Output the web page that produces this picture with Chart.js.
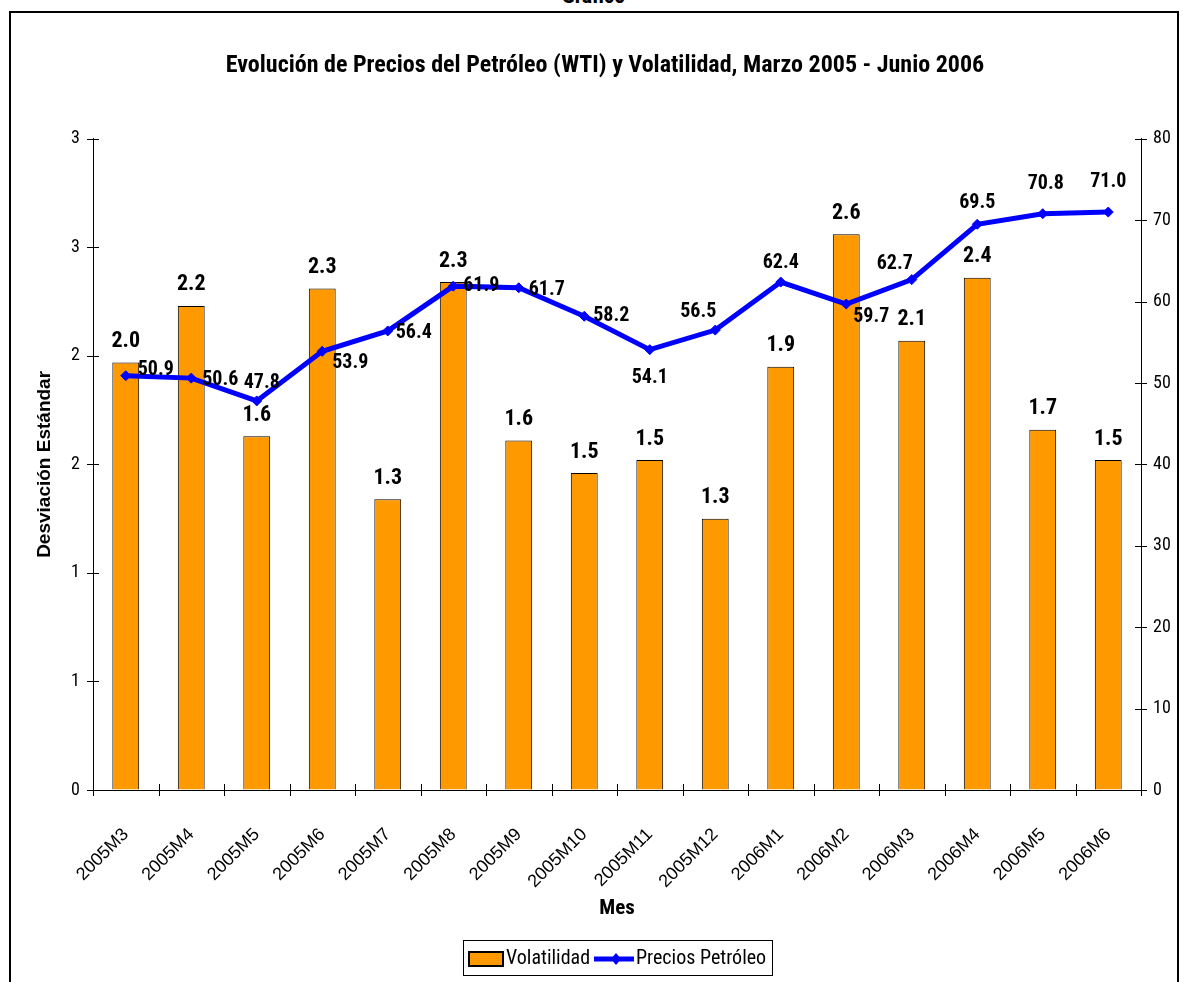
<!DOCTYPE html>
<html>
<head>
<meta charset="utf-8">
<script src="https://cdn.jsdelivr.net/npm/chart.js@4/dist/chart.umd.min.js"></script>
<style>
	body { margin: 0; background: #fff; width: 1187px; height: 982px; overflow: hidden; position: relative; }
	#marco { position: absolute; left: 9px; top: 11px; width: 1166px; height: 1000px; border: 2px solid #000; }
	#grafico { position: absolute; left: 0; top: 0; }
	#encabezado { position: absolute; top: -17px; width: 100%; text-align: center; font: bold 22px "Roboto Condensed", sans-serif; }
</style>
</head>
<body>
<div id="encabezado">Gráfico</div>
<div id="marco"></div>
<canvas id="grafico" width="1187" height="982"></canvas>
<script>
// Datos
const meses = ['2005M3', '2005M4', '2005M5', '2005M6', '2005M7', '2005M8', '2005M9', '2005M10',
	'2005M11', '2005M12', '2006M1', '2006M2', '2006M3', '2006M4', '2006M5', '2006M6'];
const volatilidad = [1.97, 2.23, 1.63, 2.31, 1.34, 2.34, 1.61, 1.46, 1.52, 1.25, 1.95, 2.56, 2.07, 2.36, 1.66, 1.52];
const precios = [50.9, 50.6, 47.8, 53.9, 56.4, 61.9, 61.7, 58.2, 54.1, 56.5, 62.4, 59.7, 62.7, 69.5, 70.8, 71.0];

// Posición de las etiquetas de precio respecto al punto [dx, dy]
const posEtiquetas = [[30, -6], [29, 2], [5, -18], [28, 12], [26, 2], [28, 0], [28, 2], [27, 0],
	[0, 28], [-17, -18], [0, -19], [25, 13], [-17, -16], [0, -21], [3, -30], [0, -30]];

const fuente = '"Roboto Condensed", "Liberation Sans", sans-serif';
const fuenteAncha = '"Liberation Sans", Arial, sans-serif';

// Marcas de eje que cruzan la línea del eje
const marcasCruzadas = {
	id: 'marcasCruzadas',
	afterDraw(chart) {
		const ctx = chart.ctx;
		ctx.save();
		ctx.strokeStyle = '#000';
		ctx.lineWidth = 1;
		ctx.beginPath();
		const x = chart.scales.x;
		const n = meses.length;
		for (let i = 0; i <= n; i++) {
			const px = Math.round(x.left + (x.width * i) / n) + 0.5;
			ctx.moveTo(px, x.top - 6);
			ctx.lineTo(px, x.top + 6);
		}
		const y = chart.scales.y;
		y.ticks.forEach((t) => {
			const py = Math.round(y.getPixelForValue(t.value)) + 0.5;
			ctx.moveTo(y.right - 6, py);
			ctx.lineTo(y.right + 6, py);
		});
		const y1 = chart.scales.y1;
		y1.ticks.forEach((t) => {
			const py = Math.round(y1.getPixelForValue(t.value)) + 0.5;
			ctx.moveTo(y1.left - 6, py);
			ctx.lineTo(y1.left + 6, py);
		});
		ctx.stroke();
		ctx.restore();
	},
};

// Etiquetas de valores
const etiquetas = {
	id: 'etiquetas',
	afterDatasetsDraw(chart) {
		const ctx = chart.ctx;
		ctx.save();
		ctx.fillStyle = '#000';
		ctx.textAlign = 'center';
		ctx.textBaseline = 'middle';
		ctx.font = 'bold 22px ' + fuente;
		chart.getDatasetMeta(0).data.forEach((bar, i) => {
			ctx.fillText(volatilidad[i].toFixed(1), bar.x, bar.y - 21);
		});
		ctx.font = 'bold 20px ' + fuente;
		chart.getDatasetMeta(1).data.forEach((pt, i) => {
			const [dx, dy] = posEtiquetas[i];
			ctx.fillText(precios[i].toFixed(1), pt.x + dx, pt.y + dy);
		});
		ctx.restore();
	},
};

// Leyenda con recuadro
const leyenda = {
	id: 'leyenda',
	afterDraw(chart) {
		const ctx = chart.ctx;
		const cx = (chart.chartArea.left + chart.chartArea.right) / 2;
		const top = 940, w = 309, h = 35;
		const left = Math.round(cx - w / 2);
		const my = top + 19;
		ctx.save();
		ctx.fillStyle = '#fff';
		ctx.fillRect(left, top, w, h);
		ctx.strokeStyle = '#000';
		ctx.lineWidth = 1;
		ctx.strokeRect(left + 0.5, top + 0.5, w, h);
		// Volatilidad
		ctx.fillStyle = '#FF9900';
		ctx.fillRect(left + 6, top + 12, 34, 14);
		ctx.lineWidth = 2;
		ctx.strokeRect(left + 6, top + 12, 34, 14);
		ctx.fillStyle = '#000';
		ctx.font = '20px ' + fuente;
		ctx.textBaseline = 'middle';
		ctx.textAlign = 'left';
		ctx.fillText('Volatilidad', left + 43, my);
		// Precios
		const lx = left + 131;
		ctx.strokeStyle = '#0000FF';
		ctx.lineWidth = 5;
		ctx.beginPath();
		ctx.moveTo(lx, my);
		ctx.lineTo(lx + 40, my);
		ctx.stroke();
		ctx.fillStyle = '#0000FF';
		ctx.beginPath();
		ctx.moveTo(lx + 22, my - 6);
		ctx.lineTo(lx + 27, my);
		ctx.lineTo(lx + 22, my + 6);
		ctx.lineTo(lx + 17, my);
		ctx.closePath();
		ctx.fill();
		ctx.fillStyle = '#000';
		ctx.fillText('Precios Petróleo', lx + 42, my);
		ctx.restore();
	},
};

const ctx = document.getElementById('grafico').getContext('2d');

new Chart(ctx, {
	data: {
		labels: meses,
		datasets: [
			{
				type: 'bar',
				label: 'Volatilidad',
				data: volatilidad,
				backgroundColor: '#FF9900',
				borderColor: '#000',
				borderWidth: 1,
				barPercentage: 0.41,
				categoryPercentage: 1,
				yAxisID: 'y',
				order: 1,
			},
			{
				type: 'line',
				label: 'Precios Petróleo',
				data: precios,
				borderColor: '#0000FF',
				backgroundColor: '#0000FF',
				borderWidth: 5,
				pointStyle: 'rectRot',
				pointRadius: 5,
				pointBorderWidth: 1,
				tension: 0,
				yAxisID: 'y1',
				order: 0,
			},
		],
	},
	options: {
		responsive: false,
		animation: false,
		layout: {
			padding: { left: 33, right: 10, top: 0, bottom: 61 },
		},
		plugins: {
			legend: { display: false },
			tooltip: { enabled: false },
			title: {
				display: true,
				text: 'Evolución de Precios del Petróleo (WTI) y Volatilidad, Marzo 2005 - Junio 2006',
				color: '#000',
				font: { family: fuente, size: 24, weight: 'bold' },
				padding: { top: 52, bottom: 58 },
			},
		},
		scales: {
			x: {
				offset: true,
				afterFit: (scale) => { scale.height = 131; },
				grid: { color: 'transparent', drawOnChartArea: false, tickLength: 6, offset: true },
				border: { color: '#000', width: 1 },
				ticks: {
					color: '#000',
					font: { family: fuenteAncha, size: 18 },
					maxRotation: 45,
					minRotation: 45,
					padding: 28,
					autoSkip: false,
				},
				title: {
					display: true,
					text: 'Mes',
					color: '#000',
					font: { family: fuente, size: 21, weight: 'bold' },
					padding: { top: 0, bottom: 0 },
				},
			},
			y: {
				position: 'left',
				min: 0,
				max: 3,
				afterFit: (scale) => { scale.width = 60; },
				grid: { color: 'transparent', drawOnChartArea: false, tickLength: 6 },
				border: { color: '#000', width: 1 },
				ticks: {
					stepSize: 0.5,
					color: '#000',
					font: { family: fuente, size: 18 },
					padding: 7,
					callback: (v) => Math.round(v),
				},
				title: {
					display: true,
					text: 'Desviación Estándar',
					color: '#000',
					font: { family: fuenteAncha, size: 19, weight: 'bold' },
					padding: { top: 0, bottom: 0 },
				},
			},
			y1: {
				position: 'right',
				min: 0,
				max: 80,
				afterFit: (scale) => { scale.width = 36; },
				grid: { color: 'transparent', drawOnChartArea: false, tickLength: 6 },
				border: { color: '#000', width: 1 },
				ticks: {
					stepSize: 10,
					color: '#000',
					font: { family: fuente, size: 18 },
					padding: 6,
				},
			},
		},
	},
	plugins: [marcasCruzadas, etiquetas, leyenda],
});
</script>
</body>
</html>
